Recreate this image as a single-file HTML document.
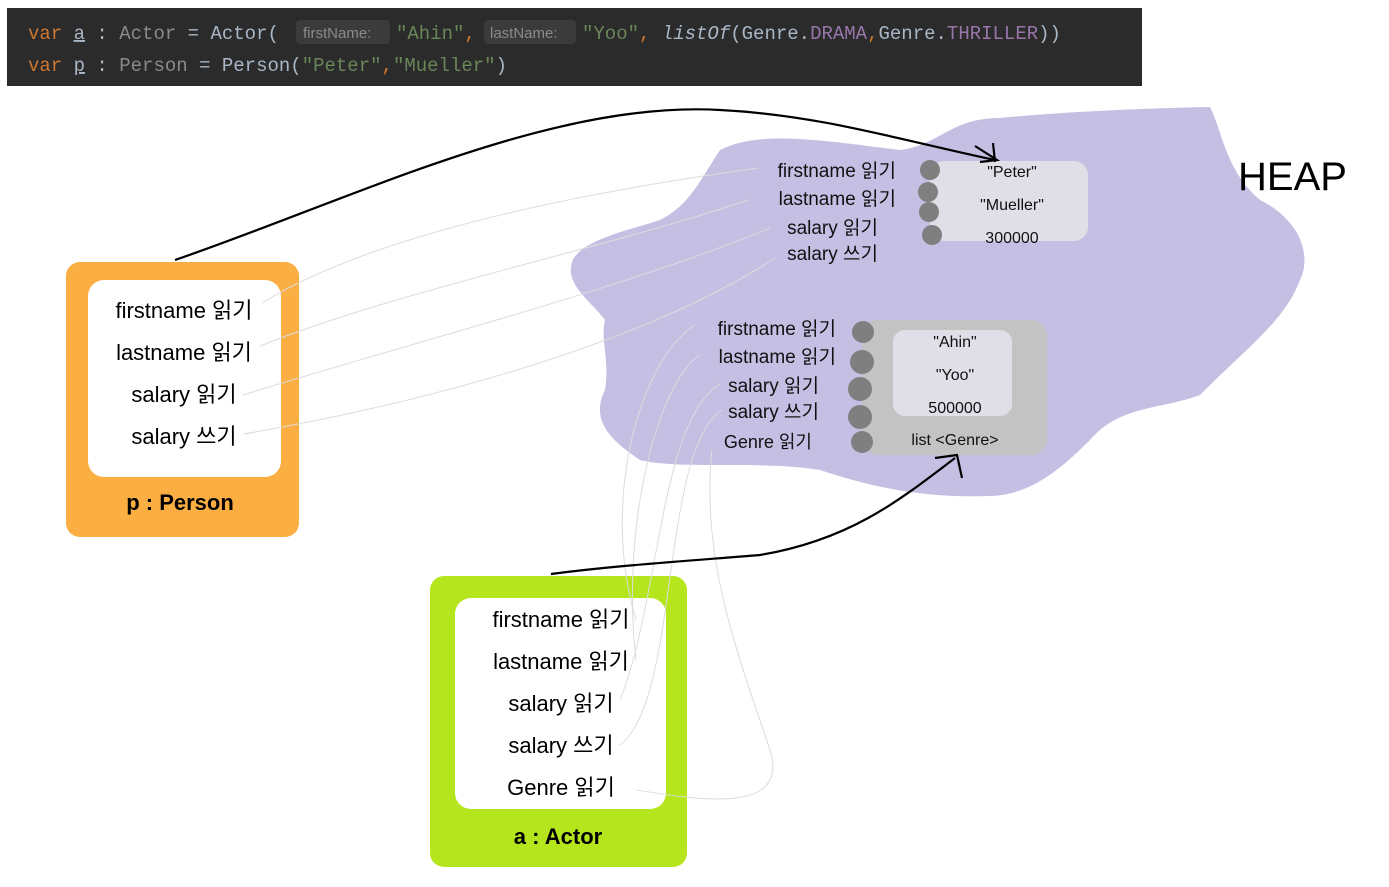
<!DOCTYPE html>
<html><head><meta charset="utf-8"><style>
html,body{margin:0;padding:0;background:#fff;width:1389px;height:887px;overflow:hidden}
svg{display:block}
text{font-family:"Liberation Sans","Noto Sans CJK KR",sans-serif}
.code{font-family:"Liberation Mono","Noto Sans CJK KR",monospace;font-size:19px}
</style></head><body>
<svg width="1389" height="887" viewBox="0 0 1389 887">
<!-- code block -->
<rect x="7" y="8" width="1135" height="78" fill="#2b2b2b"/>
<rect x="296" y="20" width="94" height="24" rx="4" fill="#3b3b3b"/>
<rect x="484" y="20" width="92" height="24" rx="4" fill="#3b3b3b"/>
<text class="code" x="28" y="39" xml:space="preserve"><tspan fill="#cc7832">var</tspan> <tspan fill="#a9b7c6" text-decoration="underline">a</tspan><tspan fill="#a9b7c6"> : </tspan><tspan fill="#8a8a8a">Actor</tspan><tspan fill="#a9b7c6"> = Actor(</tspan></text>
<text x="303" y="38" font-size="15" fill="#8a8a8a">firstName:</text>
<text class="code" x="396" y="39" fill="#6a8759">"Ahin"<tspan fill="#cc7832">,</tspan></text>
<text x="490" y="38" font-size="15" fill="#8a8a8a">lastName:</text>
<text class="code" x="582" y="39" xml:space="preserve"><tspan fill="#6a8759">"Yoo"</tspan><tspan fill="#cc7832">, </tspan><tspan fill="#a9b7c6" font-style="italic">listOf</tspan><tspan fill="#a9b7c6">(Genre.</tspan><tspan fill="#9876aa">DRAMA</tspan><tspan fill="#cc7832">,</tspan><tspan fill="#a9b7c6">Genre.</tspan><tspan fill="#9876aa">THRILLER</tspan><tspan fill="#a9b7c6">))</tspan></text>
<text class="code" x="28" y="71" xml:space="preserve"><tspan fill="#cc7832">var</tspan> <tspan fill="#a9b7c6" text-decoration="underline">p</tspan><tspan fill="#a9b7c6"> : </tspan><tspan fill="#8a8a8a">Person</tspan><tspan fill="#a9b7c6"> = Person(</tspan><tspan fill="#6a8759">"Peter"</tspan><tspan fill="#cc7832">,</tspan><tspan fill="#6a8759">"Mueller"</tspan><tspan fill="#a9b7c6">)</tspan></text>

<!-- heap blob -->
<path d="M720,150 C760,130 820,140 900,150 C940,145 950,118 1000,118 C1060,112 1150,108 1210,107 C1222,130 1225,170 1260,200 C1300,220 1312,255 1300,280 C1285,320 1250,345 1200,395 C1160,410 1120,405 1090,440 C1060,470 1030,495 990,496 C930,498 880,490 820,470 C760,460 680,470 640,460 C610,440 590,420 605,390 C610,360 600,340 605,320 C590,300 565,285 572,262 C580,240 630,230 660,220 C690,205 700,180 720,150 Z" fill="#c5bfe4"/>
<text x="1238" y="190" font-size="40" fill="#000">HEAP</text>

<!-- Peter box -->
<rect x="930" y="161" width="158" height="80" rx="14" fill="#e0dfe8"/>
<text font-size="16" fill="#111" text-anchor="middle"><tspan x="1012" y="177">"Peter"</tspan><tspan x="1012" y="210">"Mueller"</tspan><tspan x="1012" y="243">300000</tspan></text>
<g fill="#7f7f7f"><circle cx="930" cy="170" r="10"/><circle cx="928" cy="192" r="10"/><circle cx="929" cy="212" r="10"/><circle cx="932" cy="235" r="10"/></g>
<text font-size="19" fill="#111" text-anchor="end"><tspan x="896" y="177">firstname 읽기</tspan><tspan x="896" y="205">lastname 읽기</tspan><tspan x="878" y="234">salary 읽기</tspan><tspan x="878" y="260">salary 쓰기</tspan></text>

<!-- Actor heap box -->
<rect x="862" y="320" width="185" height="135" rx="16" fill="#c3c3c3"/>
<rect x="893" y="330" width="119" height="86" rx="12" fill="#e0dfe8"/>
<text font-size="16" fill="#111" text-anchor="middle"><tspan x="955" y="347">"Ahin"</tspan><tspan x="955" y="380">"Yoo"</tspan><tspan x="955" y="413">500000</tspan><tspan x="955" y="445">list &lt;Genre&gt;</tspan></text>
<g fill="#7f7f7f"><circle cx="863" cy="332" r="11"/><circle cx="862" cy="362" r="12"/><circle cx="860" cy="389" r="12"/><circle cx="860" cy="417" r="12"/><circle cx="862" cy="442" r="11"/></g>
<text font-size="19" fill="#111" text-anchor="end"><tspan x="836" y="335">firstname 읽기</tspan><tspan x="836" y="363">lastname 읽기</tspan><tspan x="819" y="392">salary 읽기</tspan><tspan x="819" y="418">salary 쓰기</tspan><tspan x="812" y="448" font-size="18">Genre 읽기</tspan></text>

<!-- Person box -->
<rect x="66" y="262" width="233" height="275" rx="14" fill="#fbae42"/>
<rect x="88" y="280" width="193" height="197" rx="16" fill="#fff"/>
<text font-size="22" fill="#000" text-anchor="middle"><tspan x="184" y="318">firstname 읽기</tspan><tspan x="184" y="360">lastname 읽기</tspan><tspan x="184" y="402">salary 읽기</tspan><tspan x="184" y="444">salary 쓰기</tspan></text>
<text x="180" y="510" font-size="22" font-weight="bold" fill="#000" text-anchor="middle">p : Person</text>

<!-- Actor box -->
<rect x="430" y="576" width="257" height="291" rx="14" fill="#b5e61d"/>
<rect x="455" y="598" width="211" height="211" rx="16" fill="#fff"/>
<text font-size="22" fill="#000" text-anchor="middle"><tspan x="561" y="627">firstname 읽기</tspan><tspan x="561" y="669">lastname 읽기</tspan><tspan x="561" y="711">salary 읽기</tspan><tspan x="561" y="753">salary 쓰기</tspan><tspan x="561" y="795">Genre 읽기</tspan></text>
<text x="558" y="844" font-size="22" font-weight="bold" fill="#000" text-anchor="middle">a : Actor</text>

<!-- thin connector lines -->
<g fill="none" stroke="#dcdcdc" stroke-width="1">
<path d="M262,303 C380,230 600,190 758,168"/>
<path d="M260,346 C400,290 600,250 748,200"/>
<path d="M243,395 C420,340 620,290 770,228"/>
<path d="M244,434 C440,400 650,340 775,258"/>
<path d="M636,620 C600,500 640,360 695,325"/>
<path d="M636,660 C620,520 660,380 700,355"/>
<path d="M620,700 C660,600 660,420 720,384"/>
<path d="M620,745 C680,700 660,450 722,410"/>
<path d="M636,790 C700,800 790,815 770,750 C740,660 700,560 712,450"/>
</g>

<!-- arrows -->
<g fill="none" stroke="#000" stroke-width="2.2">
<path d="M175,260 C350,200 550,100 720,110 C820,115 900,140 995,160"/>
<path d="M975,146 L997,160 L980,162"/>
<path d="M993,143 L995,162"/>
<path d="M551,574 C620,565 700,560 760,555 C850,540 900,500 955,458"/>
<path d="M935,458 L957,455 L962,478"/>
</g>
</svg>
</body></html>
